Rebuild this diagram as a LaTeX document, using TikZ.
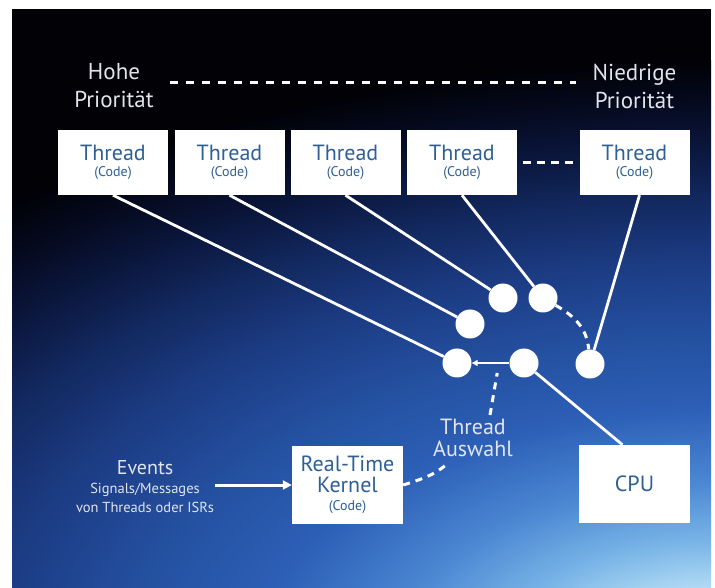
\documentclass[tikz,border=0pt]{standalone}
\usepackage{fontspec}
\setmainfont{PT Sans}
\usetikzlibrary{arrows.meta,calc}

% text colours
\definecolor{boxtext}{HTML}{2E5F95}
\definecolor{labeltext}{HTML}{E2E4EC}

% sky colours, from the bright horizon to the black night
\definecolor{g0}{HTML}{F0FBFF}
\definecolor{g1}{HTML}{BFE4F8}
\definecolor{g2}{HTML}{78B4E6}
\definecolor{g3}{HTML}{4A86D2}
\definecolor{g4}{HTML}{2C5FB6}
\definecolor{g5}{HTML}{2450A0}
\definecolor{g6}{HTML}{1C3C84}
\definecolor{g7}{HTML}{132A62}
\definecolor{g8}{HTML}{0A153A}
\definecolor{g9}{HTML}{04081A}
\definecolor{g10}{HTML}{010106}

\pgfdeclareradialshading{skyglow}{\pgfpoint{0bp}{0bp}}{%
  color(0bp)=(g0); color(2.5bp)=(g1); color(5bp)=(g2); color(7.5bp)=(g3);
  color(10.5bp)=(g4); color(13.5bp)=(g5); color(16.5bp)=(g6); color(19bp)=(g7);
  color(21.5bp)=(g8); color(23.5bp)=(g9); color(25bp)=(g10); color(50bp)=(g10)}

\newcommand\codefont{\fontsize{14}{14}\selectfont}
\newcommand\bigword{\fontsize{20}{19}\selectfont}

\begin{document}
\begin{tikzpicture}[x=1pt,y=1pt,
  whitebox/.style={fill=white, inner sep=0pt, align=center, text=boxtext,
    minimum width=110pt, font=\fontsize{22}{21}\selectfont},
  threadbox/.style={whitebox, minimum height=65pt},
  bigbox/.style={whitebox, minimum width=111pt, minimum height=78pt},
  slot/.style={circle, fill=white, inner sep=0pt, minimum size=29pt},
  label/.style={text=labeltext, align=center, inner sep=1pt},
  wire/.style={white, line width=2.8pt},
  dashline/.style={white, line width=3pt, dash pattern=on 7pt off 6pt},
  prioline/.style={white, line width=3pt, dash pattern=on 8pt off 8pt},
  gapline/.style={white, line width=3pt, dash pattern=on 8pt off 6pt},
]
\useasboundingbox (0,0) rectangle (715,587);
\fill[white] (0,0) rectangle (715,587);

% night sky with the bright horizon in the lower right
\begin{scope}
  \clip (12,0) rectangle (711,578);
  \fill[g10] (12,0) rectangle (711,578);
  \shade[shading=skyglow] (720,-73) ellipse [x radius=1100, y radius=600];
\end{scope}

% priority scale
\node[label, font=\fontsize{23}{28}\selectfont] (hp) at (114,501) {Hohe\\Priorität};
\node[label, font=\fontsize{23}{28}\selectfont] (np) at (634.5,501) {Niedrige\\Priorität};
\draw[prioline] ([shift={(15pt,3pt)}]hp.east) -- ([shift={(-15pt,3pt)}]np.west);

% threads
\node[threadbox] (t1) at (113,424.5)   {Thread\\[-5pt]{\codefont (Code)}};
\node[threadbox] (t2) at (229.5,424.5) {Thread\\[-5pt]{\codefont (Code)}};
\node[threadbox] (t3) at (345.5,424.5) {Thread\\[-5pt]{\codefont (Code)}};
\node[threadbox] (t4) at (462,424.5)   {Thread\\[-5pt]{\codefont (Code)}};
\node[threadbox] (t5) at (634.5,424.5) {Thread\\[-5pt]{\codefont (Code)}};
\draw[gapline] ([xshift=6pt]t4.east) -- ([xshift=-5pt]t5.west);

% ready slots
\node[slot] (c1) at (503,289) {};
\node[slot] (c2) at (543,289) {};
\node[slot] (c3) at (470,263) {};
\node[slot] (c4) at (457,224) {};
\node[slot] (c5) at (524,224) {};
\node[slot] (c6) at (590,223) {};

% kernel, CPU and events
\node[bigbox] (kern) at (347.5,102) {Real-Time\\[0pt]Kernel\\[-3pt]{\codefont (Code)}};
\node[bigbox] (cpu) at (634.5,103) {CPU};
\node[label, font=\fontsize{14.5}{19}\selectfont] (ev) at (145,100)
  {{\bigword Events}\\Signals/Messages\\von Threads oder ISRs};
\node[label, font=\fontsize{22}{22}\selectfont] (sel) at (473,149) {Thread\\Auswahl};

% connections
\draw[wire] (t1.south) -- (c4);
\draw[wire] (t2.south) -- (c3);
\draw[wire] (t3.south) -- (c1);
\draw[wire] (t4.south) -- (c2);
\draw[wire] ([xshift=5pt]t5.south) -- (c6);
\draw[wire] ([xshift=-12pt]cpu.north) -- (c5);
\draw[white, line width=1.8pt, -{Triangle[length=6pt,width=6pt]}] (c5) -- (c4);
\draw[dashline] (c2) to[out=-30,in=95] (c6);
\draw[white, line width=3pt, -{Triangle[length=9pt,width=9pt]}] (ev.east |- kern.west) -- (kern.west);

% thread selection by the kernel
\coordinate (pick) at ($(c4)!0.6!(c5)+(0,-10)$);
\draw[dashline] (kern.east) to[out=18,in=-140] ([shift={(-26pt,-6pt)}]sel.south);
\draw[dashline] ([shift={(17pt,3pt)}]sel.north) -- (pick);
\end{tikzpicture}
\end{document}
